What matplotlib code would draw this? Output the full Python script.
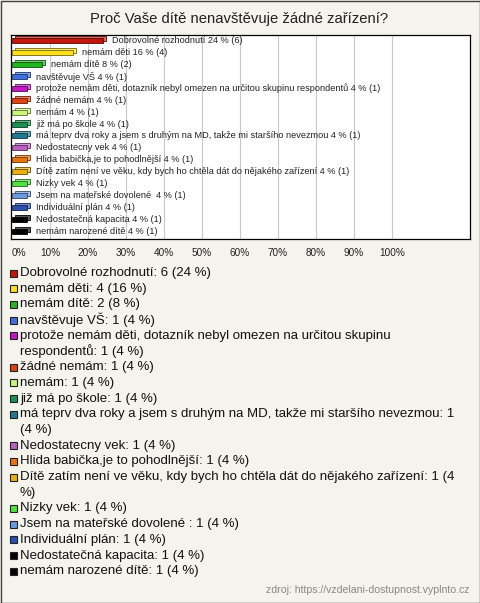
import matplotlib
matplotlib.use('Agg')
import matplotlib.pyplot as plt
import matplotlib.transforms as mtransforms
import matplotlib.colors as mcolors
from matplotlib.patches import Rectangle

# Data
labels = [
    'Dobrovolné rozhodnutí',
    'nemám děti',
    'nemám dítě',
    'navštěvuje VŠ',
    'protože nemám děti, dotazník nebyl omezen na určitou skupinu respondentů',
    'žádné nemám',
    'nemám',
    'již má po škole',
    'má teprv dva roky a jsem s druhým na MD, takže mi staršího nevezmou',
    'Nedostatecny vek',
    'Hlida babička,je to pohodlnější',
    'Dítě zatím není ve věku, kdy bych ho chtěla dát do nějakého zařízení',
    'Nizky vek',
    'Jsem na mateřské dovolené ',
    'Individuální plán',
    'Nedostatečná kapacita',
    'nemám narozené dítě',
]
counts = [6, 4, 2, 1, 1, 1, 1, 1, 1, 1, 1, 1, 1, 1, 1, 1, 1]
percents = [24, 16, 8, 4, 4, 4, 4, 4, 4, 4, 4, 4, 4, 4, 4, 4, 4]
colors = ['#c4170c', '#ffe01a', '#1fb51f', '#4070e0', '#c418c4', '#e0420f',
          '#c8f57a', '#1a9150', '#1f7a90', '#b860c0', '#e8760f', '#e8b010',
          '#50e040', '#6a9ae0', '#2a50b0', '#000000', '#000000']
tick_values = list(range(0, 101, 10))
title = 'Proč Vaše dítě nenavštěvuje žádné zařízení?'
source = 'zdroj: https://vzdelani-dostupnost.vyplnto.cz'

plt.rcParams['font.family'] = ['Liberation Sans', 'DejaVu Sans']

W, H = 480, 603
BG = '#f4f3ec'
fig = plt.figure(figsize=(W / 100, H / 100), dpi=100, facecolor=BG)


def box(x0, y0, x1, y1):
    # pixel box (top-left origin) -> figure fraction
    return [x0 / W, 1 - y1 / H, (x1 - x0) / W, (y1 - y0) / H]


def shade(c, f):
    r, g, b = mcolors.to_rgb(c)
    if f < 1:
        return (r * f, g * f, b * f)
    f = f - 1
    return (r + (1 - r) * f, g + (1 - g) * f, b + (1 - b) * f)


# bar chart
ax = fig.add_axes(box(11, 35, 470, 239))
ax.set_facecolor('white')
n = len(labels)
ypos = list(range(n))
ax.set_xlim(-0.26, 120.5)
ax.set_ylim(n - 1 + 0.67, -0.5)

for v in tick_values[1:]:
    ax.axvline(v, color='#c8c8c8', lw=0.8, zorder=0)

# 3D look: a lighter back face shifted up/right, then the front face
back = mtransforms.offset_copy(ax.transData, fig=fig, x=3, y=2, units='dots')
ax.barh(ypos, percents, height=0.42, color=[shade(c, 1.35) for c in colors],
        edgecolor=[shade(c, 0.45) for c in colors], lw=0.6, transform=back, zorder=2)
ax.barh(ypos, percents, height=0.42, color=colors,
        edgecolor=[shade(c, 0.45) for c in colors], lw=0.6, zorder=3)

for y, lab, p, c in zip(ypos, labels, percents, counts):
    ax.annotate(f'{lab} {p} % ({c})', (p, y), xytext=(9, 0), textcoords='offset pixels',
                va='center', ha='left', fontsize=6.55, color='#222222', zorder=4)

ax.set_xticks(tick_values)
ax.set_xticklabels([f'{v}%' for v in tick_values])
ax.get_xticklabels()[0].set_horizontalalignment('left')
ax.set_yticks([])
ax.tick_params(axis='x', length=0, pad=6.5, labelsize=7.2, labelcolor='#222222')
for s in ax.spines.values():
    s.set_color('black')
    s.set_linewidth(0.9)

# overlay in pixel coordinates for title, legend, source and border
ov = fig.add_axes([0, 0, 1, 1])
ov.set_xlim(0, W)
ov.set_ylim(H, 0)
ov.axis('off')
ov.patch.set_alpha(0)

ov.add_patch(Rectangle((0.5, 0.5), W - 1, H - 1, fill=False, ec='#404040', lw=1))
ov.text(W / 2 - 1, 19, title, ha='center', va='center', fontsize=10.7, color='#222222')

LEG_FS = 9.5
renderer = fig.canvas.get_renderer()


def wrap(s, maxw):
    words = s.split(' ')
    lines, cur = [], ''
    for w in words:
        trial = w if cur == '' else cur + ' ' + w
        t = ov.text(0, 0, trial, fontsize=LEG_FS)
        width = t.get_window_extent(renderer).width
        t.remove()
        if width > maxw and cur != '':
            lines.append(cur)
            cur = w
        else:
            cur = trial
    lines.append(cur)
    return lines


y = 273
step = 15.7
for lab, c, p, col in zip(labels, counts, percents, colors):
    ov.add_patch(Rectangle((9.5, y - 3.5), 7, 7, fc=col, ec='#222222', lw=0.8))
    for line in wrap(f'{lab}: {c} ({p} %)', 444):
        ov.text(20, y, line, ha='left', va='center', fontsize=LEG_FS, color='#111111')
        y += step

ov.text(469, 590, source, ha='right', va='center', fontsize=7.6, color='#888888')

fig.savefig('out.png', dpi=100, facecolor=BG)
